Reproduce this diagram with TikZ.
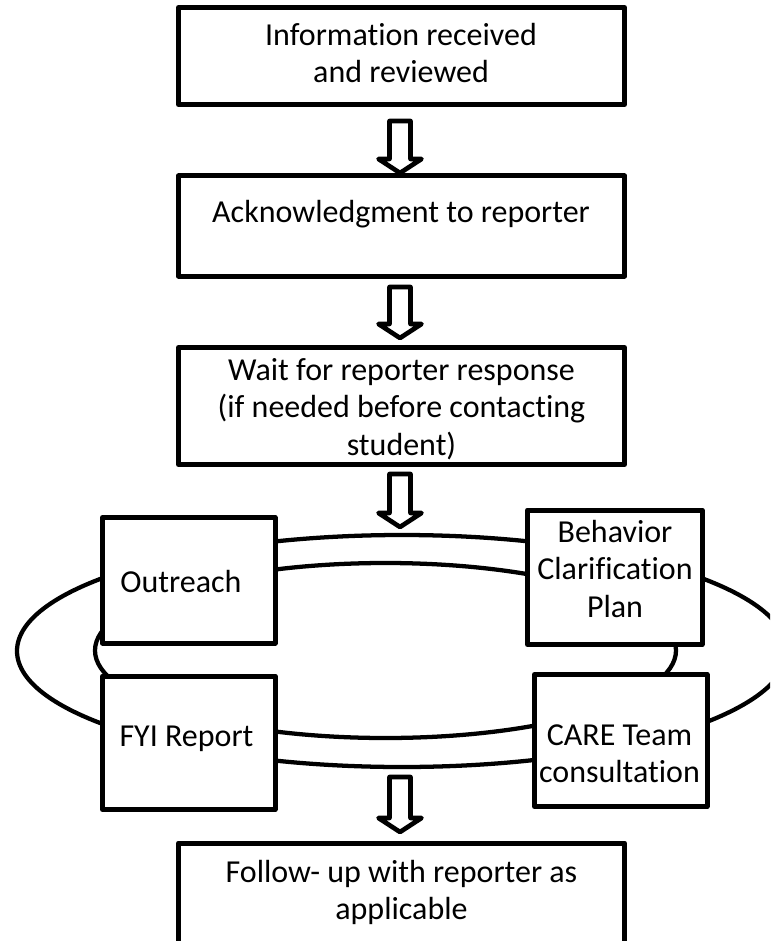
\documentclass[tikz,border=0pt]{standalone}
\usepackage{fontspec}
\setmainfont[Ligatures=NoCommon]{Carlito}
\begin{document}
\begin{tikzpicture}[x=0.75pt,y=-0.75pt,
  box/.style={draw=black, fill=white, line width=3.75pt, line join=round, inner sep=0pt, outer sep=0pt},
  txt/.style={align=center, inner sep=0pt, anchor=north, font=\fontsize{24}{28.1}\selectfont},
  ring/.style={draw=black, line width=3.2pt},
  blk/.style={draw=black, fill=white, line width=3.5pt, line join=round}]
\useasboundingbox (0,0) rectangle (770,941);
\fill[white] (0,0) rectangle (770,941);
\clip (0,0) rectangle (770,941);

% ring (two ellipses) behind the cycle boxes
\draw[ring] (402,651) ellipse [x radius=385, y radius=116];
\draw[ring] (385.5,650.5) ellipse [x radius=290.5, y radius=87.5];

% main boxes
\node[box, minimum width=446*0.75pt, minimum height=97*0.75pt] (b1) at (401.5,56) {};
\node[box, minimum width=446*0.75pt, minimum height=100*0.75pt] (b2) at (401.5,226) {};
\node[box, minimum width=446*0.75pt, minimum height=117*0.75pt] (b3) at (401.5,406) {};
\node[box, minimum width=172.5*0.75pt, minimum height=125.5*0.75pt] (b4) at (188.75,580.25) {};
\node[box, minimum width=174.5*0.75pt, minimum height=134.5*0.75pt] (b5) at (614.75,577.25) {};
\node[box, minimum width=172.5*0.75pt, minimum height=133.5*0.75pt] (b6) at (188.75,742.75) {};
\node[box, minimum width=172.5*0.75pt, minimum height=132*0.75pt] (b7) at (620.75,740.5) {};
\node[box, minimum width=446*0.75pt, minimum height=117*0.75pt] (b8) at (401.5,901.5) {};

% texts
\node[txt] (t1) at (401,18.75) {\strut Information received\\and reviewed};
\node[txt] (t2) at (401,195.75) {\strut Acknowledgment to reporter};
\node[txt] (t3) at (401.5,353.75) {\strut Wait for reporter response\\(if needed before contacting\\student)};
\node[txt] (t4) at (181,565.75) {\strut Outreach};
\node[txt] (t5) at (615,515.75) {\strut Behavior\\Clarification\\Plan};
\node[txt] (t6) at (186.5,719.75) {\strut FYI Report};
\node[txt] (t7) at (619.5,718.75) {\strut CARE Team\\consultation};
\node[txt] (t8) at (401.5,855.75) {\strut Follow- up with reporter as\\applicable};

% block arrows
\newcommand\blockarrow[2]{%
  \draw[blk] (389.5,#1) -- (410.5,#1) -- (410.5,#2-14) -- (421.5,#2-14) -- (400,#2)
    -- (378.5,#2-14) -- (389.5,#2-14) -- cycle;}
\blockarrow{121}{173}
\blockarrow{287}{338}
\blockarrow{474}{527}
\blockarrow{777}{832}
\end{tikzpicture}
\end{document}
